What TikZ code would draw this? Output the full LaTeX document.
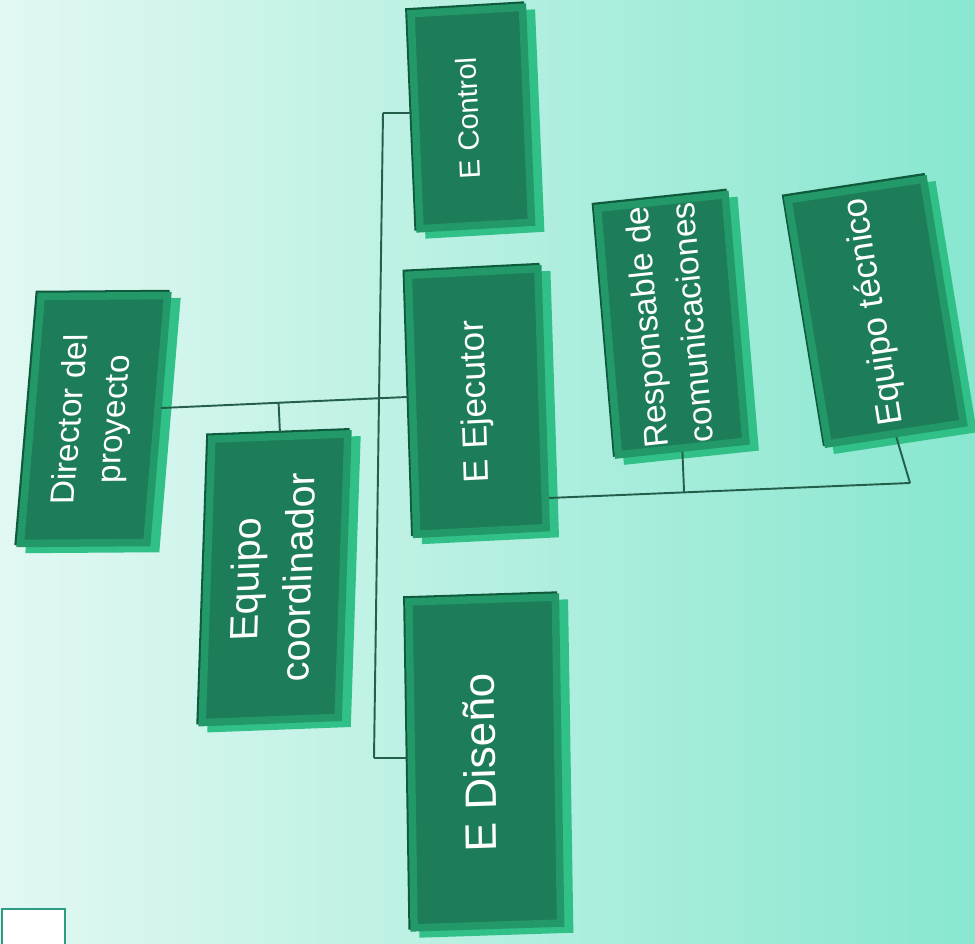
\documentclass[tikz,border=0pt]{standalone}
\usepackage{fontspec}
\setmainfont{Liberation Sans}
\usepackage{graphicx}
\usetikzlibrary{calc,shadows}

\definecolor{bgleft}{HTML}{E2F8F3}
\definecolor{bgright}{HTML}{88E7CF}
\definecolor{boxface}{HTML}{1C7D58}
\definecolor{boxrim}{HTML}{239868}
\definecolor{boxside}{HTML}{30C088}
\definecolor{boxdark}{HTML}{0F5A3D}
\definecolor{wirecol}{HTML}{245F4B}
\definecolor{tagline}{HTML}{2E9C82}

\newcommand{\vtext}[1]{\rotatebox{90}{\begin{tabular}{@{}c@{}}#1\end{tabular}}}

\begin{document}
\begin{tikzpicture}[x=0.02cm, y=0.02cm]
        \tikzset{orgbox/.style = {draw=boxrim, fill=boxface, line width=0.15cm, inner sep=0pt, text=white,
                 general shadow={fill=boxdark, draw=boxdark, shadow xshift=-0.04cm, shadow yshift=0.04cm},
                 general shadow={fill=boxside, draw=boxside, shadow xshift=0.18cm, shadow yshift=-0.12cm}}}
        \tikzset{wire/.style = {draw=wirecol, line width=1.1pt}}

        \useasboundingbox (0,0) rectangle (975,944);
        \shade[left color=bgleft, right color=bgright] (0,0) rectangle (975,944);

        \node[orgbox, minimum width=2.53cm, minimum height=4.94cm, cm={1,0.007,0.084,1,(0,0)},
              font=\fontsize{19}{25}\selectfont] (dir) at (94,524.5) {\vtext{Director del\\proyecto}};
        \node[orgbox, minimum width=2.72cm, minimum height=5.67cm, cm={1,0.038,0.034,1,(0,0)},
              font=\fontsize{22.5}{30}\selectfont] (coord) at (275,365.75) {\vtext{Equipo\\coordinador}};
        \node[orgbox, minimum width=2.23cm, minimum height=4.30cm, cm={1,0.058,-0.042,1,(0,0)},
              font=\fontsize{16.5}{20}\selectfont] (ctrl) at (471.25,826) {\vtext{E Control}};
        \node[orgbox, minimum width=2.59cm, minimum height=5.18cm, cm={1,0.05,-0.032,1,(0,0)},
              font=\fontsize{20}{24}\selectfont] (ejec) at (477.25,542.5) {\vtext{E Ejecutor}};
        \node[orgbox, minimum width=2.93cm, minimum height=6.52cm, cm={1,0.032,-0.016,1,(0,0)},
              font=\fontsize{25}{30}\selectfont] (dis) at (484.75,181.5) {\vtext{E Diseño}};
        \node[orgbox, minimum width=2.55cm, minimum height=4.93cm, cm={1,0.106,-0.084,1,(0,0)},
              font=\fontsize{19}{26}\selectfont] (resp) at (671.75,619.25) {\vtext{Responsable de\\comunicaciones}};
        \node[orgbox, minimum width=2.71cm, minimum height=4.88cm, cm={1,0.152,-0.164,1,(0,0)},
              font=\fontsize{19.7}{24}\selectfont] (tec) at (875.75,632.5) {\vtext{Equipo técnico}};

        \coordinate (bustop) at (383,831);
        \coordinate (busbot) at (374,186);
        \coordinate (dirA) at ($(dir.east)+(0,11)$);
        \coordinate (ejecA) at ($(ejec.west)+(0,8)$);
        \coordinate (ejecB) at ($(ejec.east)!0.75!(ejec.south east)$);
        \coordinate (tecB) at (910,461);

        \draw[wire] (dirA) -- (ejecA);
        \draw[wire] (coord.north) -- ($(dirA)!(coord.north)!(ejecA)$);
        \draw[wire] (bustop) -- (busbot);
        \draw[wire] (bustop) -- (bustop -| ctrl.west);
        \draw[wire] (busbot) -- (busbot -| dis.west);

        \draw[wire] (ejecB) -- (tecB);
        \draw[wire] (resp.south) -- ($(ejecB)!(resp.south)!(tecB)$);
        \draw[wire] (tec.south) -- (tecB);

        \node[draw=tagline, fill=white, line width=1.2pt, minimum width=1.26cm, minimum height=0.78cm,
              inner sep=0pt, anchor=south west] (tag) at (1,-5) {};
\end{tikzpicture}
\end{document}
